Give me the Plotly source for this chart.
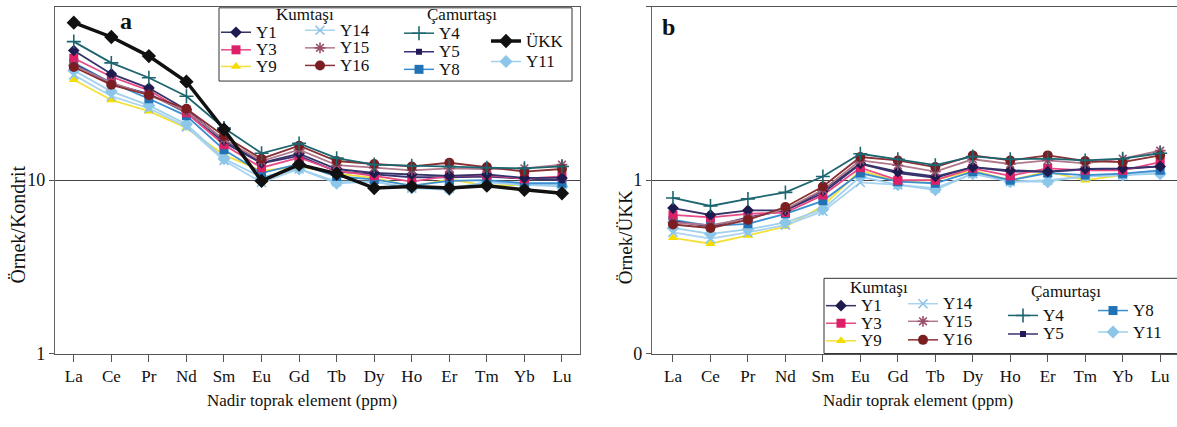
import plotly.graph_objects as go

# ---------------- data ----------------
elements = ["La", "Ce", "Pr", "Nd", "Sm", "Eu", "Gd", "Tb", "Dy", "Ho", "Er", "Tm", "Yb", "Lu"]

# panel a : sample / chondrite
a_Y1 = [56, 41, 34, 25.5, 17, 12.6, 14.2, 11.6, 11.0, 10.8, 10.6, 10.8, 10.3, 10.3]
a_Y3 = [50.5, 39.5, 33, 24.5, 16, 11.8, 13.5, 11.3, 10.6, 9.8, 10.6, 10.7, 10.2, 10.5]
a_Y9 = [38, 29, 25, 20, 14, 11.3, 12.0, 10.9, 10.3, 9.2, 10.1, 9.3, 9.4, 9.4]
a_Y14 = [40.5, 30.5, 26, 20.3, 13, 9.7, 11.6, 9.8, 9.8, 9.0, 9.0, 9.7, 9.4, 9.4]
a_Y15 = [46, 36.5, 31, 25, 17.2, 12.9, 15.0, 12.2, 11.8, 11.4, 11.7, 11.6, 11.7, 12.3]
a_Y16 = [45, 35.5, 31, 25.8, 18, 13.3, 15.8, 12.9, 12.4, 12.0, 12.6, 11.9, 11.2, 11.6]
a_Y4 = [63, 47.5, 39, 30.5, 20, 14.3, 16.3, 13.4, 12.3, 12.1, 12.0, 11.8, 11.7, 12.0]
a_Y5 = [47, 36, 31.5, 24.5, 16.5, 12.5, 13.8, 11.2, 10.8, 10.4, 10.4, 10.5, 10.2, 10.0]
a_Y8 = [47.5, 36.5, 29.5, 23.5, 15, 11.0, 12.4, 10.5, 10.1, 9.3, 9.9, 10.0, 9.6, 9.6]
a_Y11 = [43, 32.5, 27, 21, 13.3, 10.4, 11.6, 9.6, 9.8, 9.0, 8.8, 9.8, 9.4, 9.2]
a_UKK = [81, 67, 52, 37, 19.6, 9.9, 12.3, 10.9, 9.0, 9.2, 9.0, 9.3, 8.8, 8.4]

# panel b : sample / upper continental crust
b_Y1 = [0.69, 0.63, 0.67, 0.67, 0.87, 1.25, 1.12, 1.05, 1.19, 1.14, 1.12, 1.16, 1.17, 1.20]
b_Y3 = [0.63, 0.61, 0.64, 0.65, 0.82, 1.18, 1.00, 1.00, 1.17, 1.06, 1.17, 1.14, 1.14, 1.27]
b_Y9 = [0.465, 0.43, 0.48, 0.54, 0.71, 1.14, 0.98, 1.00, 1.14, 1.00, 1.12, 1.00, 1.07, 1.12]
b_Y14 = [0.50, 0.46, 0.50, 0.55, 0.66, 0.97, 0.94, 0.90, 1.09, 0.98, 1.00, 1.05, 1.07, 1.12]
b_Y15 = [0.57, 0.55, 0.60, 0.68, 0.88, 1.30, 1.22, 1.12, 1.32, 1.24, 1.30, 1.25, 1.33, 1.48]
b_Y16 = [0.555, 0.53, 0.59, 0.70, 0.92, 1.36, 1.30, 1.19, 1.39, 1.30, 1.39, 1.29, 1.27, 1.39]
b_Y4 = [0.79, 0.71, 0.78, 0.85, 1.05, 1.42, 1.32, 1.22, 1.37, 1.32, 1.33, 1.30, 1.33, 1.43]
b_Y5 = [0.58, 0.54, 0.61, 0.67, 0.84, 1.24, 1.10, 1.03, 1.19, 1.12, 1.12, 1.15, 1.16, 1.20]
b_Y8 = [0.59, 0.545, 0.56, 0.64, 0.76, 1.10, 0.98, 0.96, 1.12, 1.00, 1.10, 1.07, 1.09, 1.14]
b_Y11 = [0.53, 0.49, 0.52, 0.57, 0.68, 1.05, 0.94, 0.88, 1.09, 0.98, 0.98, 1.06, 1.07, 1.09]

series_a = {"Y9": a_Y9, "Y14": a_Y14, "Y11": a_Y11, "Y8": a_Y8, "Y5": a_Y5, "Y3": a_Y3,
            "Y1": a_Y1, "Y15": a_Y15, "Y16": a_Y16, "Y4": a_Y4, "ÜKK": a_UKK}
series_b = {"Y9": b_Y9, "Y14": b_Y14, "Y11": b_Y11, "Y8": b_Y8, "Y5": b_Y5, "Y3": b_Y3,
            "Y1": b_Y1, "Y15": b_Y15, "Y16": b_Y16, "Y4": b_Y4}

# ---------------- styles ----------------
STY = {
    "Y1": dict(line="#35336a", mc="#1e1b4e", sym="diamond", ms=9, lw=1.8),
    "Y3": dict(line="#e84a86", mc="#dc1f66", sym="square", ms=9, lw=1.8),
    "Y9": dict(line="#f3e03a", mc="#f5dc00", sym="triangle-up", ms=9, lw=1.8),
    "Y14": dict(line="#a9d4f0", mc="#8cc3ea", sym="x-thin", ms=9, lw=1.8),
    "Y15": dict(line="#b0788c", mc="#9a4e6c", sym="asterisk", ms=9, lw=1.8),
    "Y16": dict(line="#8a3034", mc="#7a1e22", sym="circle", ms=10, lw=1.8),
    "Y4": dict(line="#1d6670", mc="#1d6670", sym="cross-thin", ms=10, lw=1.8),
    "Y5": dict(line="#3a3272", mc="#221a5a", sym="square", ms=6, lw=1.8),
    "Y8": dict(line="#3b8fd0", mc="#2273b5", sym="square", ms=9, lw=1.8),
    "Y11": dict(line="#9fd0ee", mc="#8cc6e8", sym="diamond", ms=10, lw=1.8),
    "ÜKK": dict(line="#111111", mc="#111111", sym="diamond", ms=11, lw=3.5),
}
LINE_SYMS = {"x-thin", "asterisk", "cross-thin"}


def marker_of(s):
    st = STY[s]
    if st["sym"] in LINE_SYMS:
        return dict(symbol=st["sym"], size=st["ms"], color=st["mc"],
                    line=dict(width=1.6, color=st["mc"]))
    return dict(symbol=st["sym"], size=st["ms"], color=st["mc"], line=dict(width=0))


fig = go.Figure()

for name, vals in series_a.items():
    st = STY[name]
    fig.add_trace(go.Scatter(x=elements, y=vals, mode="lines+markers", name=name,
                             xaxis="x", yaxis="y", showlegend=False,
                             line=dict(color=st["line"], width=st["lw"]), marker=marker_of(name)))
for name, vals in series_b.items():
    st = STY[name]
    fig.add_trace(go.Scatter(x=elements, y=vals, mode="lines+markers", name=name,
                             xaxis="x2", yaxis="y2", showlegend=False,
                             line=dict(color=st["line"], width=st["lw"]), marker=marker_of(name)))

# ---------------- manual legends (pixel overlay axis) ----------------
W, H = 1177, 427
SERIF = "Liberation Serif, Times New Roman, DejaVu Serif, serif"
ann = []


def legend_item(name, xm, y, half=15):
    st = STY[name]
    fig.add_trace(go.Scatter(x=[xm - half, xm + half], y=[y, y], mode="lines", xaxis="x3", yaxis="y3",
                             showlegend=False, hoverinfo="skip",
                             line=dict(color=st["line"], width=st["lw"] if name == "ÜKK" else 1.5)))
    fig.add_trace(go.Scatter(x=[xm], y=[y], mode="markers", xaxis="x3", yaxis="y3",
                             showlegend=False, hoverinfo="skip", marker=marker_of(name)))
    ann.append(dict(x=xm + half + 3, y=y, xref="x3", yref="y3", text=name,
                    showarrow=False, xanchor="left", yanchor="middle",
                    font=dict(family=SERIF, size=17, color="#111")))


# panel a legend
leg_a = [("Y1", 236, 33), ("Y3", 236, 51), ("Y9", 236, 68),
         ("Y14", 320, 31), ("Y15", 320, 49), ("Y16", 320, 67),
         ("Y4", 419, 34), ("Y5", 419, 53), ("Y8", 419, 71),
         ("ÜKK", 506, 42), ("Y11", 506, 63)]
for n, xm, y in leg_a:
    legend_item(n, xm, y)
ann.append(dict(x=305, y=15, xref="x3", yref="y3", text="Kumtaşı", showarrow=False,
                font=dict(family=SERIF, size=17, color="#111")))
ann.append(dict(x=462, y=15, xref="x3", yref="y3", text="Çamurtaşı", showarrow=False,
                font=dict(family=SERIF, size=17, color="#111")))

# panel b legend
leg_b = [("Y1", 841, 313), ("Y3", 841, 331), ("Y9", 841, 349),
         ("Y14", 923, 311), ("Y15", 923, 329), ("Y16", 923, 348),
         ("Y4", 1023, 323), ("Y5", 1023, 342),
         ("Y8", 1113, 318), ("Y11", 1113, 340)]
for n, xm, y in leg_b:
    legend_item(n, xm, y)
ann.append(dict(x=879, y=294, xref="x3", yref="y3", text="Kumtaşı", showarrow=False,
                font=dict(family=SERIF, size=17, color="#111")))
ann.append(dict(x=1066, y=298, xref="x3", yref="y3", text="Çamurtaşı", showarrow=False,
                font=dict(family=SERIF, size=17, color="#111")))

# panel labels and axis titles
ann += [
    dict(x=126, y=22, xref="x3", yref="y3", text="<b>a</b>", showarrow=False,
         font=dict(family=SERIF, size=24, color="#111")),
    dict(x=668, y=28, xref="x3", yref="y3", text="<b>b</b>", showarrow=False,
         font=dict(family=SERIF, size=24, color="#111")),
    dict(x=18, y=230, xref="x3", yref="y3", text="Örnek/Kondrit", textangle=-90, showarrow=False,
         font=dict(family=SERIF, size=20, color="#111")),
    dict(x=625, y=243, xref="x3", yref="y3", text="Örnek/ÜKK", textangle=-90, showarrow=False,
         font=dict(family=SERIF, size=19, color="#111")),
    dict(x=302, y=410, xref="x3", yref="y3", text="Nadir toprak element (ppm)", showarrow=False,
         font=dict(family=SERIF, size=17, color="#111")),
    dict(x=918, y=410, xref="x3", yref="y3", text="Nadir toprak element (ppm)", showarrow=False,
         font=dict(family=SERIF, size=17, color="#111")),
]

shapes = [
    dict(type="rect", xref="paper", yref="paper", x0=219 / W, x1=572 / W, y0=1 - 83 / H, y1=1 - 8 / H,
         line=dict(color="#333", width=1), fillcolor="rgba(0,0,0,0)", layer="above"),
    dict(type="rect", xref="paper", yref="paper", x0=824 / W, x1=1180 / W, y0=1 - 362 / H, y1=1 - 285 / H,
         line=dict(color="#333", width=1), fillcolor="rgba(0,0,0,0)", layer="above"),
]

ydom = [1 - 362 / H, 1 - 7 / H]
tickfont = dict(family=SERIF, size=17, color="#111")
xcommon = dict(type="category", categoryorder="array", categoryarray=elements,
               showline=True, linecolor="#555", linewidth=1.2, mirror=True,
               ticks="outside", ticklen=7, tickcolor="#555", tickfont=tickfont,
               showgrid=False, zeroline=False, fixedrange=True)

fig.update_layout(
    width=W, height=H, margin=dict(l=0, r=0, t=0, b=0),
    paper_bgcolor="white", plot_bgcolor="rgba(0,0,0,0)", showlegend=False,
    xaxis=dict(domain=[55 / W, 580 / W], range=[-0.5, 13.48], anchor="y", **xcommon),
    yaxis=dict(domain=ydom, type="log", range=[0, 2], anchor="x",
               tickvals=[1, 10], ticktext=["1", "10"], tickfont=dict(family=SERIF, size=18, color="#111"),
               showline=True, linecolor="#666", linewidth=1.2, mirror=True,
               ticks="outside", ticklen=5, tickcolor="#555",
               showgrid=True, gridcolor="#444", gridwidth=1.2, zeroline=False),
    xaxis2=dict(domain=[652 / W, 1.0], range=[-0.56, 13.45], anchor="y2", **xcommon),
    yaxis2=dict(domain=ydom, type="log", range=[-1, 1], anchor="x2",
                tickvals=[0.1, 1, 10], ticktext=["0", "1", "10"], tickfont=dict(family=SERIF, size=18, color="#111"),
                showline=True, linecolor="#666", linewidth=1.2, mirror=False,
                ticks="outside", ticklen=5, tickcolor="#555",
                showgrid=True, gridcolor="#444", gridwidth=1.2, zeroline=False),
    xaxis3=dict(domain=[0, 1], range=[0, W], visible=False, anchor="y3", fixedrange=True),
    yaxis3=dict(domain=[0, 1], range=[H, 0], visible=False, anchor="x3", fixedrange=True),
    annotations=ann, shapes=shapes,
)

fig.write_html("out.html")
